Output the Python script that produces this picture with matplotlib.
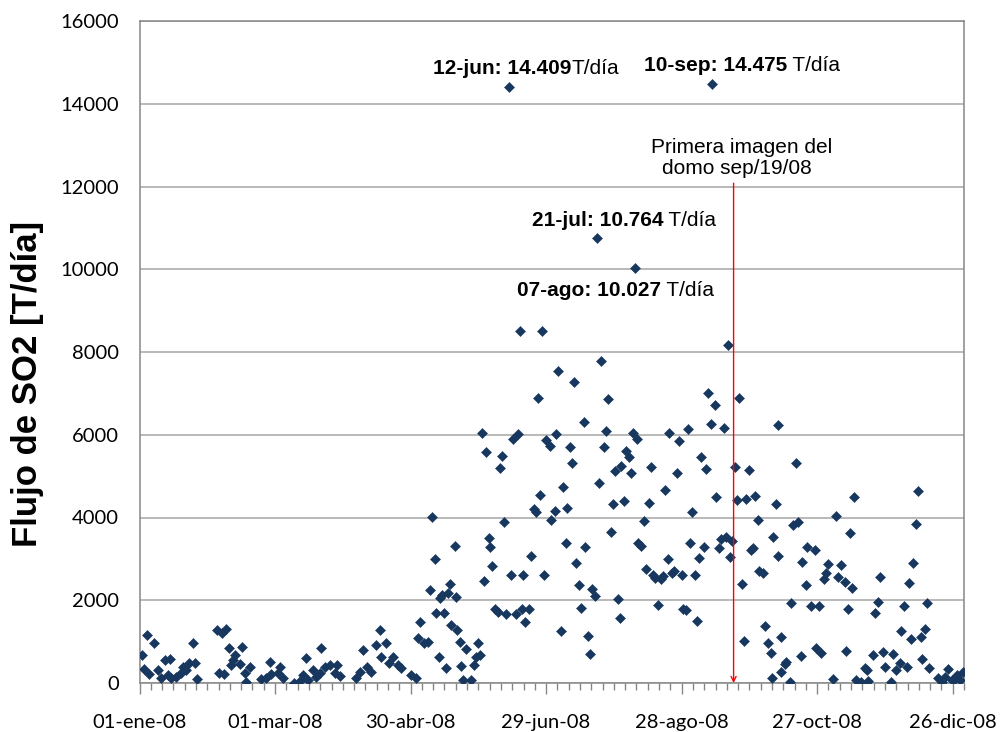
import matplotlib
matplotlib.use('Agg')
import matplotlib.pyplot as plt
from matplotlib.ticker import FixedLocator
import matplotlib.dates as mdates
import numpy as np
import datetime as dt

BASE = dt.datetime(2008, 1, 1)

# day offsets from 01-ene-08 and SO2 flux (T/día)
jan_days = [1.0, 2.2, 3.2, 4.4, 6.6, 8.1, 9.6, 11.1, 12.5, 13.3, 14.0, 16.2, 18.2, 19.2, 20.7, 22.1, 23.6, 24.4, 25.5]
jan_flux = [676, 330, 1152, 217, 974, 314, 113, 556, 193, 580, 113, 137, 234, 394, 314, 475, 974, 490, 89]

feb_days = [34.4, 35.4, 36.5, 37.3, 38.4, 39.6, 40.3, 41.3, 42.1, 44.3, 45.5, 46.5, 47.0, 48.7]
feb_flux = [1280, 234, 1200, 217, 1304, 837, 435, 556, 676, 459, 861, 234, 31, 394]

mar_days = [53.9, 56.1, 57.6, 58.3, 61.2, 62.0, 63.5, 68.6, 71.6, 72.3, 73.5, 74.5, 76.7, 78.3, 79.7, 80.5,
            81.9, 84.5, 86.4, 87.6, 88.6]
mar_flux = [89, 120, 515, 217, 234, 394, 129, 8, 72, 193, 596, 72, 314, 153, 234, 853,
            394, 435, 234, 435, 160]

apr_days = [95.7, 97.4, 98.9, 100.7, 102.6, 104.8, 106.3, 107.0, 109.2, 110.4, 112.2, 114.4, 115.9, 120.3,
            122.2, 123.2, 124.2, 126.0, 127.5, 128.4, 129.5, 130.6, 131.4, 132.5, 133.2, 134.1, 135.0, 135.5,
            136.6, 137.6, 138.0, 139.5, 140.3, 140.5, 141.7, 142.5, 143.2, 144.7, 146.9, 147.9, 149.1, 149.8]
apr_flux = [113, 274, 797, 394, 274, 918, 1280, 636, 974, 475, 636, 435, 354, 193,
            113, 1080, 1481, 960, 998, 2246, 4017, 2987, 1699, 620, 2045, 2126, 1699, 370,
            2182, 2383, 1401, 3309, 2069, 1280, 998, 410, 72, 813, 72, 435, 636, 974]

jun_days = [150.6, 151.6, 152.3, 153.2, 154.7, 155.3, 156.2, 157.2, 158.7, 159.7, 160.4, 161.3, 162.4, 163.6,
            164.6, 165.4, 166.8, 167.5, 168.3, 169.5, 169.7, 170.5, 172.4, 173.2, 174.5, 175.7, 176.4, 177.5,
            178.3, 179.0, 179.8, 181.6, 182.3, 183.8, 184.2, 185.3, 186.5, 187.5, 188.6, 189.4, 190.4, 191.4,
            192.3, 193.4, 194.4, 195.6, 196.6, 197.4, 198.5, 199.6, 200.5, 201.5, 202.5, 203.4, 204.5, 205.5,
            206.4, 207.4, 208.6, 209.4, 210.4, 211.8, 212.9, 213.3, 214.3, 215.5, 216.7, 217.5, 218.5, 219.4]
jun_flux = [676, 6031, 2464, 5587, 3510, 3293, 2834, 1780, 1708, 5201, 5491, 3881, 1659, 14409,
            2609, 5886, 1659, 6014, 8510, 1780, 2609, 1481, 1780, 3068, 4196, 4123, 6877, 4541,
            8510, 2609, 5870, 5732, 3937, 4162, 6014, 7544, 1256, 4742, 3374, 4235, 5708, 5307,
            7278, 2890, 2367, 1820, 6312, 3277, 1135, 693, 2263, 2101, 10764, 4823, 7778, 5708,
            6087, 6860, 3655, 4324, 5128, 2022, 1563, 5249, 4404, 5604, 5451, 5065, 6031, 10027]

aug_days = [220.4, 220.7, 222.2, 223.4, 224.4, 225.6, 226.6, 227.3, 228.1, 229.6, 230.8, 231.8, 232.6, 233.8,
            234.5, 235.6, 236.6, 237.8, 238.7, 240.1, 240.8, 242.0, 242.7, 243.7, 244.8, 245.7, 247.0, 247.8,
            248.6, 250.0, 250.9, 251.7, 252.9, 253.6, 254.7, 255.4, 256.4, 257.6, 258.7, 259.6, 260.6, 261.3,
            262.5, 263.5, 264.3, 265.4, 266.9]
aug_flux = [5886, 3374, 3317, 3913, 2746, 4340, 5225, 2609, 2529, 1884, 2505, 2585, 4662, 2987,
            6047, 2665, 2713, 5080, 5853, 2609, 1780, 1763, 6135, 3390, 4138, 2609, 1498, 3012,
            5451, 3293, 5161, 6997, 6248, 14475, 6715, 4485, 3253, 3471, 6167, 3519, 8181, 3036,
            3437, 5225, 4420, 6877, 2391]

oct_days = [267.5, 268.4, 269.8, 270.9, 271.6, 272.4, 273.6, 274.3, 276.1, 276.8, 278.2, 279.4, 279.8, 280.5,
            281.7, 282.7, 282.7, 283.9, 284.2, 285.7, 286.4, 287.8, 288.6, 289.3, 290.5, 291.5, 292.8, 293.5,
            294.9, 295.3, 297.2, 299.0, 299.6, 300.9, 301.6, 303.1, 303.8, 304.6, 307.0, 308.5, 309.3, 310.5,
            312.2, 312.7, 313.7, 314.4, 315.6, 316.5, 317.4, 319.6]
oct_flux = [1022, 4437, 5145, 3213, 3253, 4517, 3937, 2713, 2650, 1377, 958, 717, 113, 3534,
            4324, 6232, 3068, 1103, 274, 459, 515, 33, 1925, 3816, 5307, 3896, 660, 2930,
            2367, 3293, 1868, 3213, 837, 1868, 733, 2505, 2650, 2874, 89, 4034, 2568, 2850,
            2447, 773, 1787, 3616, 2287, 4485, 72, 33]

dec_days = [321.1, 321.9, 322.6, 324.8, 325.5, 326.9, 327.7, 329.0, 330.1, 332.6, 333.6, 334.8, 336.6, 337.3,
            338.3, 339.6, 340.7, 341.5, 342.5, 343.7, 344.7, 345.9, 346.5, 347.9, 348.6, 349.5, 353.6, 355.1,
            356.6, 358.0, 359.5, 360.9, 361.7, 363.2, 364.7]
dec_flux = [354, 314, 57, 676, 1683, 1964, 2568, 741, 394, 33, 700, 314, 490, 1256,
            1868, 378, 2408, 1055, 2906, 3841, 4645, 1119, 580, 1296, 1940, 354, 113, 33,
            153, 330, 72, 89, 193, 72, 274]

tick_dates = ['2008-01-01', '2008-03-01', '2008-04-30', '2008-06-29', '2008-08-28', '2008-10-27', '2008-12-26']
tick_labels = ['01-ene-08', '01-mar-08', '30-abr-08', '29-jun-08', '28-ago-08', '27-oct-08', '26-dic-08']
y_ticks = [0, 2000, 4000, 6000, 8000, 10000, 12000, 14000, 16000]

days = np.array(jan_days + feb_days + mar_days + apr_days + jun_days + aug_days + oct_days + dec_days)
flux = np.array(jan_flux + feb_flux + mar_flux + apr_flux + jun_flux + aug_flux + oct_flux + dec_flux)
assert len(days) == len(flux)

base_num = mdates.date2num(BASE)
xs = base_num + days

fig = plt.figure(figsize=(10.01, 7.32), dpi=100)
ax = fig.add_axes([139.5 / 1001, 1 - 683 / 732, (964 - 139.5) / 1001, (683 - 21) / 732])

navy = '#17375E'
gray = '#868686'

ax.plot(xs, flux, linestyle='none', marker='D', ms=5.4, color=navy, mec=navy, mew=0.4, zorder=3)

ax.set_xlim(base_num, base_num + 365)
ax.set_ylim(0, 16000)
ax.set_yticks(y_ticks)
ax.set_yticklabels([str(v) for v in y_ticks])
ax.yaxis.grid(True, color='#A6A6A6', lw=1.1)
ax.set_axisbelow(True)

major = [mdates.date2num(dt.datetime.strptime(d, '%Y-%m-%d')) for d in tick_dates]
ax.set_xticks(major)
ax.set_xticklabels(tick_labels)
ax.xaxis.set_minor_locator(FixedLocator(base_num + np.arange(0, 366, 5)))

tick_font = 'Lato'
for lab in ax.get_xticklabels() + ax.get_yticklabels():
    lab.set_fontfamily(tick_font)
    lab.set_fontsize(14.5)
ax.tick_params(axis='y', length=0, pad=15)
ax.tick_params(axis='x', which='major', length=8, width=1, color=gray, pad=14)
ax.tick_params(axis='x', which='minor', length=5, width=1, color=gray)

for s in ['left', 'bottom', 'right', 'top']:
    ax.spines[s].set_color(gray)
    ax.spines[s].set_linewidth(1.1)

fig.text(28 / 1001, 1 - 384 / 732, 'Flujo de SO2 [T/día]', rotation=90, ha='center', va='center',
         fontsize=25, fontweight='bold', family='Liberation Sans')

ann_font = dict(family='Liberation Sans', fontsize=15)


def label(xday, yval, bold, normal):
    ax.text(base_num + xday, yval, bold, ha='right', va='baseline', fontweight='bold', **ann_font)
    ax.text(base_num + xday, yval, normal, ha='left', va='baseline', **ann_font)


label(191.2, 14710, '12-jun: 14.409', 'T/día')
label(286.8, 14790, '10-sep: 14.475', ' T/día')
label(231.8, 11055, '21-jul: 10.764', ' T/día')
label(231.0, 9348, '07-ago: 10.027', ' T/día')

ax.text(base_num + 266.4, 12819, 'Primera imagen del', ha='center', va='baseline', **ann_font)
ax.text(base_num + 264.4, 12295, 'domo sep/19/08', ha='center', va='baseline', **ann_font)

dome_day = 263.0
ax.annotate('', xy=(base_num + dome_day, 0), xytext=(base_num + dome_day, 12080),
            arrowprops=dict(arrowstyle='->', color='red', lw=1.0, shrinkA=0, shrinkB=0, mutation_scale=9),
            zorder=4)

fig.savefig('out.png', dpi=100)
